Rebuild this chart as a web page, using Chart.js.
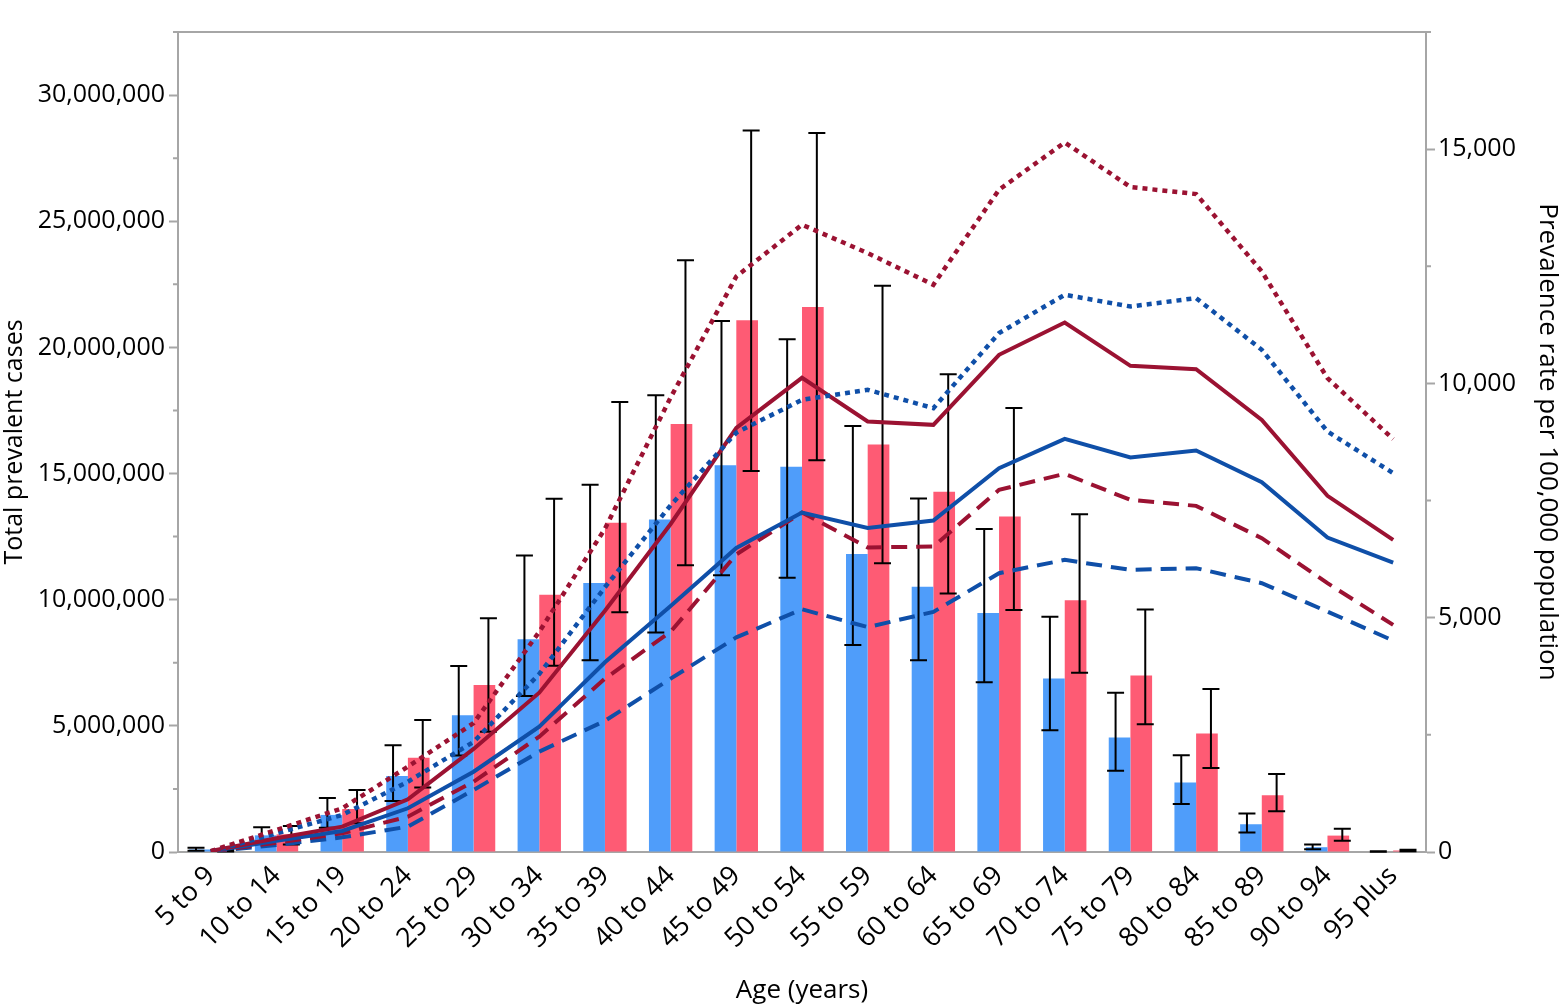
<!DOCTYPE html>
<html>
<head>
<meta charset="utf-8">
<script src="https://cdn.jsdelivr.net/npm/chart.js@4.4.0/dist/chart.umd.min.js"></script>
<style>
  html, body { margin: 0; padding: 0; background: #fff; }
</style>
</head>
<body>
<canvas id="myChart" width="1563" height="1008"></canvas>
<script>
// categorie (fasce di età)
const eta = ['5 to 9', '10 to 14', '15 to 19', '20 to 24', '25 to 29', '30 to 34', '35 to 39',
             '40 to 44', '45 to 49', '50 to 54', '55 to 59', '60 to 64', '65 to 69', '70 to 74',
             '75 to 79', '80 to 84', '85 to 89', '90 to 94', '95 plus'];

// casi totali (barre, asse sinistro)
const casiBlu  = [100000, 660000, 1470000, 3010000, 5420000, 8430000, 10660000, 13180000, 15330000, 15270000,
                  11810000, 10510000, 9470000, 6880000, 4540000, 2750000, 1100000, 190000, 20000];
const bassoBlu = [50000, 410000, 960000, 2020000, 3820000, 6180000, 7600000, 8700000, 10970000, 10870000,
                  8200000, 7600000, 6730000, 4830000, 3220000, 1900000, 770000, 110000, 10000];
const altoBlu  = [170000, 980000, 2140000, 4230000, 7370000, 11750000, 14560000, 18100000, 21050000, 20320000,
                  16880000, 14010000, 12800000, 9320000, 6310000, 3830000, 1530000, 300000, 30000];

const casiRosa  = [50000, 700000, 1700000, 3740000, 6620000, 10200000, 13050000, 16960000, 21080000, 21600000,
                   16150000, 14280000, 13300000, 9980000, 7000000, 4700000, 2250000, 650000, 60000];
const bassoRosa = [20000, 300000, 1140000, 2560000, 4770000, 7380000, 9500000, 11370000, 15100000, 15530000,
                   11440000, 10250000, 9590000, 7100000, 5060000, 3330000, 1620000, 450000, 30000];
const altoRosa  = [80000, 1030000, 2460000, 5230000, 9260000, 14000000, 17840000, 23450000, 28600000, 28500000,
                   22440000, 18940000, 17600000, 13390000, 9610000, 6460000, 3090000, 920000, 90000];

// tassi per 100.000 (linee, asse destro)
const rossoPunti  = [20, 470, 933, 1821, 2750, 4700, 6900, 9700, 12283, 13387, 12782, 12105, 14134, 15143, 14191, 14042, 12390, 10113, 8811];
const rossoPieno  = [20, 292, 541, 1125, 2200, 3400, 5150, 7000, 9050, 10120, 9187, 9116, 10611, 11301, 10376, 10305, 9223, 7601, 6661];
const rossoTratti = [10, 199, 399, 754, 1501, 2462, 3700, 4700, 6350, 7244, 6500, 6519, 7729, 8071, 7515, 7387, 6697, 5737, 4846];
const bluPunti    = [10, 399, 790, 1501, 2350, 3800, 5650, 7400, 8950, 9650, 9864, 9473, 11074, 11892, 11642, 11821, 10718, 8974, 8085];
const bluPieno    = [15, 242, 448, 933, 1714, 2675, 4050, 5250, 6490, 7244, 6915, 7073, 8192, 8818, 8419, 8568, 7893, 6711, 6177];
const bluTratti   = [8, 150, 313, 541, 1324, 2142, 2800, 3700, 4580, 5180, 4800, 5124, 5950, 6234, 6021, 6057, 5737, 5131, 4512];

// tick assi
const tickSinistra = [0, 5000000, 10000000, 15000000, 20000000, 25000000, 30000000];
const tickDestra   = [0, 5000, 10000, 15000];

const grigio = '#a6a6a6';
const rossoLinea = '#9b1232';
const bluLinea = '#0f4fa8';

Chart.defaults.font.family = "'Open Sans', sans-serif";
Chart.defaults.color = '#000';

// plugin barre di errore
const erroriPlugin = {
  id: 'errori',
  afterDatasetDraw(chart, args) {
    const ds = chart.data.datasets[args.index];
    if (!ds.errori) return;
    const { ctx } = chart;
    const y = chart.scales.y;
    ctx.save();
    ctx.strokeStyle = '#000';
    ctx.lineWidth = 2;
    args.meta.data.forEach((barra, i) => {
      const x = barra.x + ds.spostamento;
      const yBasso = y.getPixelForValue(ds.errori[0][i]);
      const yAlto = y.getPixelForValue(ds.errori[1][i]);
      ctx.beginPath();
      ctx.moveTo(x, yBasso); ctx.lineTo(x, yAlto);
      ctx.moveTo(x - 8.5, yBasso); ctx.lineTo(x + 8.5, yBasso);
      ctx.moveTo(x - 8.5, yAlto); ctx.lineTo(x + 8.5, yAlto);
      ctx.stroke();
    });
    ctx.restore();
  }
};

// plugin cornice superiore + tick minori
const cornicePlugin = {
  id: 'cornice',
  afterDraw(chart) {
    const { ctx, chartArea } = chart;
    ctx.save();
    ctx.strokeStyle = grigio;
    ctx.lineWidth = 2;
    ctx.beginPath();
    ctx.moveTo(chartArea.left - 1, chartArea.top);
    ctx.lineTo(chartArea.right + 1, chartArea.top);
    // tick minori
    const sx = chart.scales.y, dx = chart.scales.y1;
    sx.ticks.forEach(t => {
      if (!tickSinistra.includes(t.value)) {
        const py = sx.getPixelForValue(t.value);
        ctx.moveTo(chartArea.left - 5, py); ctx.lineTo(chartArea.left, py);
      }
    });
    dx.ticks.forEach(t => {
      if (!tickDestra.includes(t.value)) {
        const py = dx.getPixelForValue(t.value);
        ctx.moveTo(chartArea.right, py); ctx.lineTo(chartArea.right + 5, py);
      }
    });
    ctx.stroke();
    ctx.restore();
  }
};

function linea(dati, colore, tratteggio, larghezza) {
  return {
    type: 'line',
    data: dati,
    yAxisID: 'y1',
    borderColor: colore,
    borderWidth: larghezza,
    borderDash: tratteggio,
    pointRadius: 0,
    fill: false,
    tension: 0,
    order: 1
  };
}

new Chart('myChart', {
  data: {
    labels: eta,
    datasets: [
      { type: 'bar', data: casiBlu, backgroundColor: '#4f9dfa', yAxisID: 'y', order: 2,
        errori: [bassoBlu, altoBlu], spostamento: -4,
        categoryPercentage: 0.66, barPercentage: 1 },
      { type: 'bar', data: casiRosa, backgroundColor: '#fe5b74', yAxisID: 'y', order: 2,
        errori: [bassoRosa, altoRosa], spostamento: 4,
        categoryPercentage: 0.66, barPercentage: 1 },
      linea(rossoPunti, rossoLinea, [5, 5], 4.5),
      linea(bluPunti, bluLinea, [5, 5], 4.5),
      linea(rossoPieno, rossoLinea, [], 4),
      linea(bluPieno, bluLinea, [], 4),
      linea(rossoTratti, rossoLinea, [16, 9], 4),
      linea(bluTratti, bluLinea, [16, 9], 4)
    ]
  },
  options: {
    responsive: false,
    animation: false,
    devicePixelRatio: 1,
    layout: { padding: { top: 32, right: 0, left: 0, bottom: 0 } },
    plugins: { legend: { display: false }, tooltip: { enabled: false } },
    scales: {
      x: {
        grid: { display: false },
        border: { color: grigio, width: 2 },
        ticks: { maxRotation: 45, minRotation: 45, font: { size: 27 }, padding: 0 },
        title: { display: true, text: 'Age (years)', font: { size: 26 }, padding: { top: 0, bottom: 2 } },
        afterFit: s => { s.height = 156; }
      },
      y: {
        position: 'left',
        min: 0, max: 32500000,
        grid: { drawOnChartArea: false, tickLength: 9,
                tickColor: c => tickSinistra.includes(c.tick.value) ? grigio : 'transparent', tickWidth: 2 },
        border: { color: grigio, width: 2 },
        ticks: { stepSize: 2500000, font: { size: 25 }, padding: 4,
                 callback: v => tickSinistra.includes(v) ? v.toLocaleString('en-US') : '' },
        title: { display: true, text: 'Total prevalent cases', font: { size: 25 }, padding: 0 },
        afterFit: s => { s.width = 178; }
      },
      y1: {
        position: 'right',
        min: 0, max: 17500,
        grid: { drawOnChartArea: false, tickLength: 9,
                tickColor: c => tickDestra.includes(c.tick.value) ? grigio : 'transparent', tickWidth: 2 },
        border: { color: grigio, width: 2 },
        ticks: { stepSize: 2500, font: { size: 25 }, padding: 3,
                 callback: v => tickDestra.includes(v) ? v.toLocaleString('en-US') : '' },
        title: { display: true, text: 'Prevalence rate per 100,000 population',
                 font: { size: 26, family: "'Liberation Sans Narrow', 'Open Sans', sans-serif" }, padding: 0 },
        afterFit: s => { s.width = 137; }
      }
    }
  },
  plugins: [erroriPlugin, cornicePlugin]
});
</script>
</body>
</html>
